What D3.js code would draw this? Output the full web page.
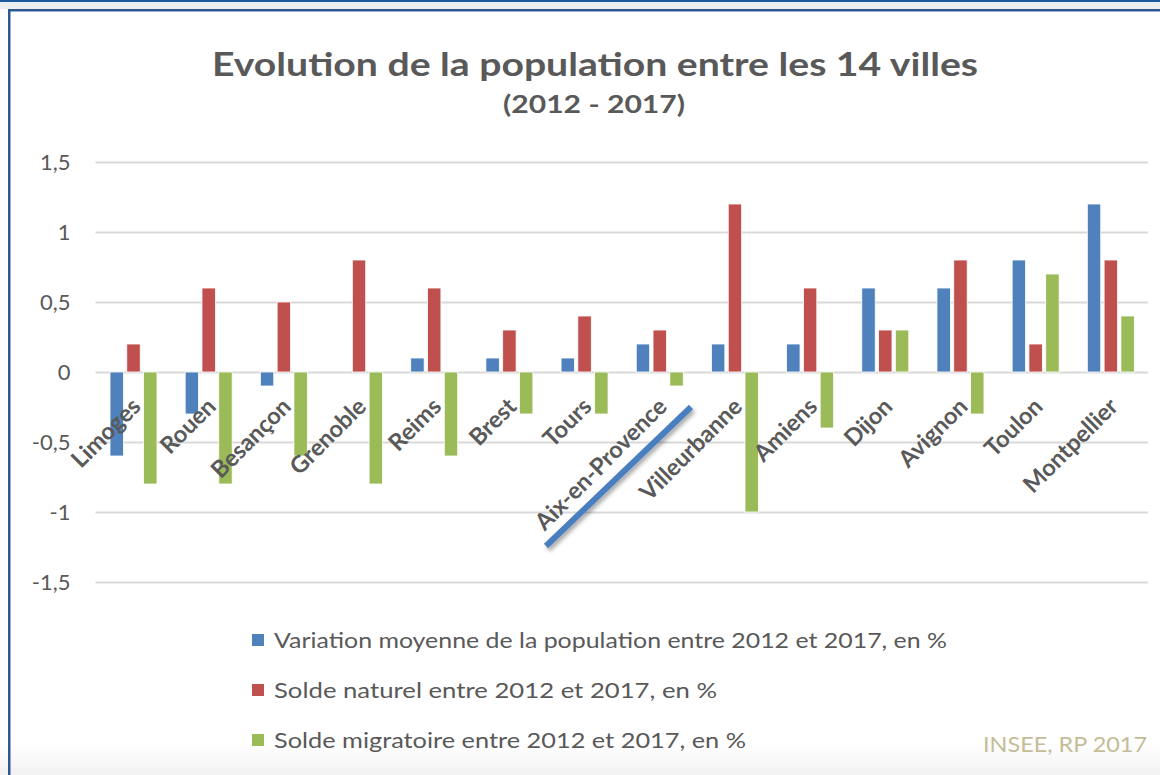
<!DOCTYPE html>
<html>
  <head>
    <meta charset="utf-8">
    <script src="https://d3js.org/d3.v7.min.js"></script>
    <style>
      body {
        margin: 0;
        background-color: white;
        font-family: Lato, "Open Sans", sans-serif;
      }
    </style>
  </head>
  <body>
    <div id="chart"></div>
    <script>
      var villes = ['Limoges','Rouen','Besançon','Grenoble','Reims','Brest','Tours',
        'Aix-en-Provence','Villeurbanne','Amiens','Dijon','Avignon','Toulon','Montpellier'];
      var variation = [-0.6,-0.3,-0.1,0,0.1,0.1,0.1,0.2,0.2,0.2,0.6,0.6,0.8,1.2];
      var soldeNaturel = [0.2,0.6,0.5,0.8,0.6,0.3,0.4,0.3,1.2,0.6,0.3,0.8,0.2,0.8];
      var soldeMigratoire = [-0.8,-0.8,-0.6,-0.8,-0.6,-0.3,-0.3,-0.1,-1,-0.4,0.3,-0.3,0.7,0.4];
      var seriesNames = [
        'Variation moyenne de la population entre 2012 et 2017, en %',
        'Solde naturel entre 2012 et 2017, en %',
        'Solde migratoire entre 2012 et 2017, en %'
      ];
      var yTicks = [-1.5,-1,-0.5,0,0.5,1,1.5];

      var W = 1160, H = 775;
      var margin = {top: 162, right: 12, bottom: 193, left: 95.5};
      var grey = '#595959';

      var svg = d3.select('#chart').append('svg')
        .attr('width', W)
        .attr('height', H);

      // frame like the screenshot
      var defs = svg.append('defs');
      var grad = defs.append('linearGradient').attr('id', 'bottomFade')
        .attr('x1', 0).attr('y1', 0).attr('x2', 0).attr('y2', 1);
      grad.append('stop').attr('offset', 0).attr('stop-color', '#ffffff');
      grad.append('stop').attr('offset', 1).attr('stop-color', '#f6f6f6');
      var shadow = defs.append('filter').attr('id', 'shadow')
        .attr('x', '-20%').attr('y', '-20%').attr('width', '140%').attr('height', '140%');
      shadow.append('feDropShadow').attr('dx', 2).attr('dy', 3)
        .attr('stdDeviation', 2).attr('flood-color', '#000').attr('flood-opacity', 0.35);

      svg.append('rect').attr('x', 0).attr('y', 0).attr('width', W).attr('height', 9).attr('fill', '#eceef2');
      svg.append('rect').attr('x', 0).attr('y', 0).attr('width', W).attr('height', 2).attr('fill', '#1c5b9b');
      svg.append('rect').attr('x', 0).attr('y', 740).attr('width', W).attr('height', 28).attr('fill', 'url(#bottomFade)');
      svg.append('rect').attr('x', 0).attr('y', 768).attr('width', W).attr('height', 7).attr('fill', '#f3f3f3');
      svg.append('rect').attr('x', 8).attr('y', 9).attr('width', W).attr('height', 2.5).attr('fill', '#2f5891');
      svg.append('rect').attr('x', 8).attr('y', 9).attr('width', 2.5).attr('height', H).attr('fill', '#2f5891');

      var x0 = d3.scaleBand()
        .domain(villes)
        .range([margin.left, W - margin.right]);

      var x1 = d3.scaleBand()
        .domain([0, 1, 2])
        .range([14.5, 61.5])
        .paddingInner(0.2);

      var y = d3.scaleLinear()
        .domain([-1.5, 1.5])
        .range([H - margin.bottom, margin.top]);

      var colors = ['#4f81bd', '#c0504d', '#9bbb59'];

      // gridlines + tick labels
      var yAxis = svg.append('g')
        .attr('transform', 'translate(' + margin.left + ',0)')
        .call(d3.axisLeft(y)
          .tickValues(yTicks)
          .tickSize(-(W - margin.right - margin.left))
          .tickPadding(25)
          .tickFormat(function(d) { return String(d).replace('.', ','); }));
      yAxis.select('.domain').remove();
      yAxis.selectAll('.tick line').attr('stroke', '#d9d9d9').attr('stroke-width', 2);
      yAxis.selectAll('.tick text')
        .attr('fill', grey)
        .attr('font-size', 22)
        .attr('font-family', 'Lato, sans-serif');

      // bars
      var data = villes.map(function(v, i) {
        return {ville: v, values: [variation[i], soldeNaturel[i], soldeMigratoire[i]]};
      });

      var groups = svg.append('g').selectAll('g')
        .data(data)
        .enter().append('g')
        .attr('transform', function(d) { return 'translate(' + x0(d.ville) + ',0)'; });

      groups.selectAll('rect')
        .data(function(d) { return d.values.map(function(v, k) { return {k: k, v: v}; }); })
        .enter().append('rect')
        .filter(function(d) { return d.v !== 0; })
        .attr('x', function(d) { return x1(d.k); })
        .attr('width', x1.bandwidth())
        .attr('y', function(d) { return y(Math.max(0, d.v)); })
        .attr('height', function(d) { return Math.abs(y(d.v) - y(0)); })
        .attr('fill', function(d) { return colors[d.k]; })
        .attr('stroke', 'white')
        .attr('stroke-width', 0.8);

      // category labels, rotated
      svg.append('g').selectAll('text')
        .data(villes)
        .enter().append('text')
        .attr('transform', function(d) {
          return 'translate(' + (x0(d) + x0.bandwidth() / 2 + 9) + ',' + 408 + ') rotate(-45)';
        })
        .attr('text-anchor', 'end')
        .attr('fill', grey)
        .attr('font-size', 23.5)
        .attr('font-weight', 'bold')
        .text(function(d) { return d; });

      // hand drawn highlight stroke
      svg.append('line')
        .attr('x1', 546).attr('y1', 546)
        .attr('x2', 691).attr('y2', 407)
        .attr('stroke', '#4a7ebf')
        .attr('stroke-width', 6)
        .attr('filter', 'url(#shadow)');

      // title
      svg.append('text')
        .attr('x', 595).attr('y', 76)
        .attr('text-anchor', 'middle')
        .attr('fill', grey)
        .attr('font-size', 33)
        .attr('font-weight', 'bold')
        .attr('textLength', 766)
        .attr('lengthAdjust', 'spacingAndGlyphs')
        .text('Evolution de la population entre les 14 villes');
      svg.append('text')
        .attr('x', 594).attr('y', 113)
        .attr('text-anchor', 'middle')
        .attr('fill', grey)
        .attr('font-size', 24)
        .attr('font-weight', 'bold')
        .attr('textLength', 182)
        .attr('lengthAdjust', 'spacingAndGlyphs')
        .text('(2012 - 2017)');

      // legend
      var legendY = [640, 690, 740];
      var legendW = [673, 443, 472];
      var legend = svg.append('g').selectAll('g')
        .data(seriesNames)
        .enter().append('g')
        .attr('transform', function(d, i) { return 'translate(252,' + legendY[i] + ')'; });
      legend.append('rect')
        .attr('x', 0).attr('y', -6)
        .attr('width', 12).attr('height', 12)
        .attr('fill', function(d, i) { return colors[i]; });
      legend.append('text')
        .attr('x', 22).attr('y', 8)
        .attr('fill', grey)
        .attr('font-size', 22)
        .attr('textLength', function(d, i) { return legendW[i]; })
        .attr('lengthAdjust', 'spacingAndGlyphs')
        .text(function(d) { return d; });

      // source
      svg.append('text')
        .attr('x', 1147).attr('y', 752)
        .attr('text-anchor', 'end')
        .attr('fill', '#c4bd97')
        .attr('font-size', 22)
        .attr('textLength', 164)
        .attr('lengthAdjust', 'spacingAndGlyphs')
        .text('INSEE, RP 2017');
    </script>
  </body>
</html>
